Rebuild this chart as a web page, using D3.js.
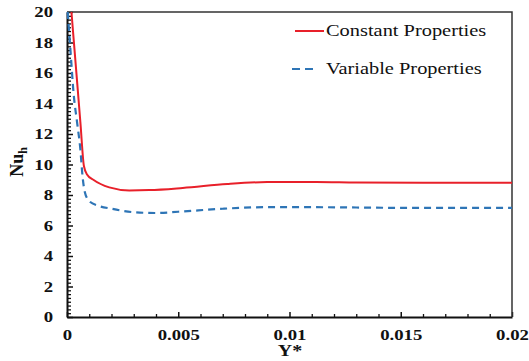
<!DOCTYPE html>
<html>
<head>
<meta charset="utf-8">
<script src="https://cdn.jsdelivr.net/npm/d3@7"></script>
<style>
  body { margin: 0; background: #fff; }
  svg text { font-family: "Liberation Serif", "Times New Roman", Times, "DejaVu Serif", serif; }
</style>
</head>
<body>
<div id="chart"></div>
<script>
// Data
const constantProps = [
    [0.0002, 20], [0.0004, 16.4], [0.0006, 12.8], [0.00076, 9.9], [0.0009, 9.35],
    [0.0012, 8.98], [0.0019, 8.5], [0.0028, 8.3], [0.0037, 8.32], [0.0052, 8.46],
    [0.0072, 8.72], [0.009, 8.85], [0.0112, 8.86], [0.013, 8.82], [0.016, 8.8], [0.02, 8.8]
];
const variableProps = [
    [0.00003, 20], [0.00015, 17.6], [0.0003, 14.6], [0.00045, 12.8], [0.0006, 11],
    [0.0007, 9.2], [0.0008, 8.2], [0.001, 7.6], [0.0014, 7.3], [0.002, 7.1],
    [0.003, 6.87], [0.004, 6.82], [0.005, 6.9], [0.007, 7.1], [0.009, 7.2],
    [0.011, 7.2], [0.013, 7.18], [0.016, 7.15], [0.02, 7.15]
];
const seriesNames = ['Constant Properties', 'Variable Properties'];
const xTicks = [0, 0.005, 0.01, 0.015, 0.02];
const yTicks = [0, 2, 4, 6, 8, 10, 12, 14, 16, 18, 20];

// Layout
const width = 529, height = 361;
const plotLeft = 67, plotRight = 512, plotTop = 12, plotBottom = 317;
const stretch = 1.25;   // the picture's text is stretched sideways

const svg = d3.select('#chart').append('svg')
    .attr('width', width)
    .attr('height', height);

const x = d3.scaleLinear().domain([0, 0.02]).range([plotLeft, plotRight]);
const y = d3.scaleLinear().domain([0, 20]).range([plotBottom, plotTop]);

// minor ticks (inside)
const xMinor = d3.range(0, 0.0201, 0.001).filter(v => !xTicks.some(t => Math.abs(t - v) < 1e-9));
const yMinor = d3.range(0, 20.01, 0.25).filter(v => !yTicks.some(t => Math.abs(t - v) < 1e-9));

svg.append('g')
    .attr('transform', 'translate(0,' + plotBottom + ')')
    .call(d3.axisBottom(x).tickValues(xMinor).tickSize(-3).tickFormat(''))
    .call(g => g.select('.domain').remove())
    .selectAll('line').attr('stroke', '#111').attr('stroke-width', 1.3);
svg.append('g')
    .attr('transform', 'translate(' + plotLeft + ',0)')
    .call(d3.axisLeft(y).tickValues(yMinor).tickSize(-4).tickFormat(''))
    .call(g => g.select('.domain').remove())
    .selectAll('line').attr('stroke', '#111').attr('stroke-width', 1.3);

// major axes
const xAxis = svg.append('g')
    .attr('transform', 'translate(0,' + plotBottom + ')')
    .call(d3.axisBottom(x).tickValues(xTicks).tickSizeInner(-5).tickSizeOuter(0).tickPadding(12)
        .tickFormat(d => d === 0 ? '0' : String(+d.toFixed(3))));
const yAxis = svg.append('g')
    .attr('transform', 'translate(' + plotLeft + ',0)')
    .call(d3.axisLeft(y).tickValues(yTicks).tickSizeInner(-6).tickSizeOuter(0).tickPadding(14));

[xAxis, yAxis].forEach(g => {
    g.attr('font-family', null);
    g.select('.domain').attr('stroke', '#111').attr('stroke-width', 2);
    g.selectAll('line').attr('stroke', '#111').attr('stroke-width', 1.5);
    g.selectAll('text')
        .attr('font-weight', 'bold')
        .attr('font-size', 15)
        .attr('fill', '#111');
});
xAxis.selectAll('.tick text')
    .attr('transform', 'scale(' + stretch + ',1)');
yAxis.selectAll('.tick text')
    .attr('transform', 'scale(' + stretch + ',1)')
    .attr('x', -14 / stretch);

// top and right border
svg.append('path')
    .attr('d', 'M' + plotLeft + ',' + plotTop + 'H' + plotRight + 'V' + plotBottom)
    .attr('fill', 'none')
    .attr('stroke', '#333')
    .attr('stroke-width', 1.5);

// lines
const line = d3.line()
    .x(d => x(d[0]))
    .y(d => y(d[1]))
    .curve(d3.curveMonotoneX);

svg.append('path')
    .datum(constantProps)
    .attr('d', line)
    .attr('fill', 'none')
    .attr('stroke', '#e8202a')
    .attr('stroke-width', 2);

svg.append('path')
    .datum(variableProps)
    .attr('d', line)
    .attr('fill', 'none')
    .attr('stroke', '#2e75b6')
    .attr('stroke-width', 2.2)
    .attr('stroke-dasharray', '7,5');

// legend
const legend = svg.append('g');
const legendRows = [
    { name: seriesNames[0], color: '#e8202a', dash: null, x1: 295, x2: 324, y: 31 },
    { name: seriesNames[1], color: '#2e75b6', dash: '8,5', x1: 292, x2: 318, y: 69 }
];
legendRows.forEach(r => {
    legend.append('line')
        .attr('x1', r.x1).attr('x2', r.x2)
        .attr('y1', r.y).attr('y2', r.y)
        .attr('stroke', r.color)
        .attr('stroke-width', 2)
        .attr('stroke-dasharray', r.dash);
    legend.append('text')
        .attr('transform', 'translate(326,' + (r.y + 5) + ') scale(1.2,1)')
        .attr('font-size', 17)
        .attr('fill', '#111')
        .text(r.name);
});

// axis titles
svg.append('text')
    .attr('transform', 'translate(290,356) scale(' + stretch + ',1)')
    .attr('text-anchor', 'middle')
    .attr('font-weight', 'bold')
    .attr('font-size', 16)
    .attr('fill', '#111')
    .text('Y*');

const yTitle = svg.append('text')
    .attr('transform', 'translate(23,162) rotate(-90)')
    .attr('text-anchor', 'middle')
    .attr('font-weight', 'bold')
    .attr('font-size', 18)
    .attr('fill', '#111');
yTitle.append('tspan').text('Nu');
yTitle.append('tspan').attr('font-size', 12).attr('dy', 4).text('h');
</script>
</body>
</html>
